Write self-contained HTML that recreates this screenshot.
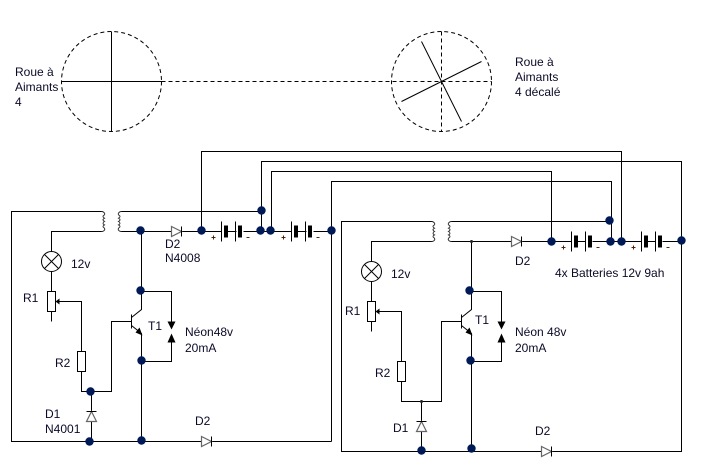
<!DOCTYPE html>
<html><head><meta charset="utf-8"><style>
html,body{margin:0;padding:0;background:#fff}
svg{display:block}
text{font-family:"Liberation Sans",sans-serif;font-size:12px;fill:#0a0a28}
</style></head><body>
<svg width="711" height="471" viewBox="0 0 711 471" xmlns="http://www.w3.org/2000/svg">
<defs>
<g id="bat">
<path d="M0 -10V10M14 -10V10" fill="none" stroke="#000"/>
<rect x="2.5" y="-6" width="4" height="12" fill="#000"/>
<rect x="16.5" y="-6" width="4" height="12" fill="#000"/>
<path d="M6 0H14" stroke="#000"/>
<path d="M-10 6H-6M-8 4V8M25 6H28" stroke="#552200" fill="none"/>
</g>
<g id="dr"><path d="M0 -5L10 0L0 5Z" fill="#fff" stroke="#666" stroke-width="1.2"/><path d="M10 -5V5" stroke="#000"/></g>
<g id="du"><path d="M0 0L5 10H-5Z" fill="#fff" stroke="#666" stroke-width="1.2"/><path d="M-5 0H5" stroke="#000"/></g>
<g id="lamp"><circle r="10" fill="#fff" stroke="#000"/><path d="M-7 -7L7 7M7 -7L-7 7" stroke="#000"/></g>
<path id="coilR" d="M0 0H1Q4 1.5 3 3.3Q0 5 3 6.7Q0 8.4 3 10Q0 11.7 3 13.4Q0 15 3 16.7Q4 19 1 20H0" fill="none" stroke="#333"/>
<path id="coilL" d="M3 0H2Q-1 1.5 0 3.3Q3 5 0 6.7Q3 8.4 0 10Q3 11.7 0 13.4Q3 15 0 16.7Q-1 19 2 20H3" fill="none" stroke="#333"/>
<g id="neon"><path d="M-4 0H4L0 8Z" fill="#000"/><path d="M-4 21H4L0 12Z" fill="#000"/></g>
</defs>
<g transform="translate(.5 .5)" fill="none" stroke="#000">
<!-- wheels -->
<circle cx="111" cy="81" r="50" stroke-dasharray="4 3"/>
<path d="M61 81H161M111 31V131"/>
<path d="M161 81H491M441 31V131" stroke-dasharray="4 3"/>
<circle cx="441" cy="81" r="50" stroke-dasharray="4 3"/>
<path d="M421 41L461 121M401 101L481 61"/>
<!-- long wires -->
<path d="M201 231V151H621V241M261 231V161H681V451H341V221H431M271 231V171H551V241M331 441V181H611V241"/>
<!-- left circuit -->
<path d="M101 211H11V441H331M101 231H51V251M51 271V291M51 311V321M56 301H81V351M81 371V391H111V321H131"/>
<path d="M121 211H261M121 231H171M181 231H221M228 231H236M243 231H291M298 231H306M313 231H331"/>
<path d="M131 314V328M141 231V309L131 317M131 325L141 333V441"/>
<path d="M141 291H171V321M171 341V361H141M91 391V441"/>
<!-- right circuit -->
<path d="M431 241H371V261M371 281V301M371 321V331M376 311H401V361M401 381V401H441V321H461M421 401V451"/>
<path d="M451 221H611M451 241H511M521 241H571M578 241H585M592 241H641M648 241H655M662 241H681"/>
<path d="M461 314V328M471 241V309L461 317M461 325L471 333V451"/>
<path d="M471 291H501V321M501 341V361H471"/>
<!-- resistors -->
<rect x="47" y="291" width="8" height="20" fill="#fff"/>
<rect x="77" y="351" width="8" height="20" fill="#fff"/>
<rect x="367" y="301" width="8" height="20" fill="#fff"/>
<rect x="397" y="361" width="8" height="20" fill="#fff"/>
</g>
<g transform="translate(.5 .5)">
<path d="M55 301L59 298V304ZM375 311L379 308V314Z" fill="#000"/>
<path d="M142 335L135 332L139 327ZM472 335L465 332L469 327Z" fill="#000"/>
<use href="#coilR" x="101" y="211"/><use href="#coilL" x="118" y="211"/>
<use href="#coilR" x="431" y="221"/><use href="#coilL" x="448" y="221"/>
<use href="#lamp" x="51" y="261"/><use href="#lamp" x="371" y="271"/>
<use href="#neon" x="171" y="321"/><use href="#neon" x="501" y="321"/>
<use href="#dr" x="171" y="231"/><use href="#dr" x="201" y="441"/>
<use href="#dr" x="511" y="241"/><use href="#dr" x="541" y="451"/>
<use href="#du" x="91" y="411"/><use href="#du" x="421" y="421"/>
<use href="#bat" x="221" y="231"/><use href="#bat" x="291" y="231"/>
<use href="#bat" x="571" y="241"/><use href="#bat" x="641" y="241"/>
<g fill="#001a57">
<circle cx="140" cy="230" r="4.2"/><circle cx="140" cy="290" r="4.2"/><circle cx="141" cy="360" r="4.2"/><circle cx="141" cy="440" r="4.2"/>
<circle cx="90" cy="391" r="4.2"/><circle cx="89" cy="441" r="4.2"/>
<circle cx="201" cy="230" r="4.2"/><circle cx="261" cy="210" r="4.2"/><circle cx="260" cy="230" r="4.2"/><circle cx="270" cy="230" r="4.2"/><circle cx="331" cy="230" r="4.2"/>
<circle cx="551" cy="241" r="4.2"/><circle cx="609" cy="220" r="4.2"/><circle cx="610" cy="241" r="4.2"/><circle cx="621" cy="241" r="4.2"/><circle cx="681" cy="240" r="4.2"/>
<circle cx="469" cy="290" r="4.2"/><circle cx="470" cy="360" r="4.2"/><circle cx="421" cy="450" r="4.2"/><circle cx="471" cy="448" r="4.2"/>
</g>
<circle cx="471" cy="241" r="1.5" fill="#222"/><circle cx="421" cy="401" r="1.5" fill="#222"/>
</g>
<text x="15" y="76">Roue à</text><text x="15" y="91">Aimants</text><text x="15" y="106">4</text>
<text x="515" y="66">Roue à</text><text x="515" y="81">Aimants</text><text x="515" y="96">4 décalé</text>
<text x="71" y="268">12v</text><text x="23" y="302">R1</text><text x="148" y="330">T1</text>
<text x="185" y="336">Néon48v</text><text x="185" y="352">20mA</text>
<text x="165" y="248">D2</text><text x="165" y="262">N4008</text>
<text x="55" y="367">R2</text><text x="45" y="418">D1</text><text x="45" y="433">N4001</text><text x="195" y="425">D2</text>
<text x="391" y="278">12v</text><text x="345" y="315">R1</text><text x="475" y="324">T1</text>
<text x="515" y="336">Néon 48v</text><text x="515" y="352">20mA</text>
<text x="375" y="377">R2</text><text x="393" y="432">D1</text><text x="535" y="435">D2</text><text x="515" y="265">D2</text>
<text x="555" y="277">4x Batteries 12v 9ah</text>
</svg>
</body></html>
